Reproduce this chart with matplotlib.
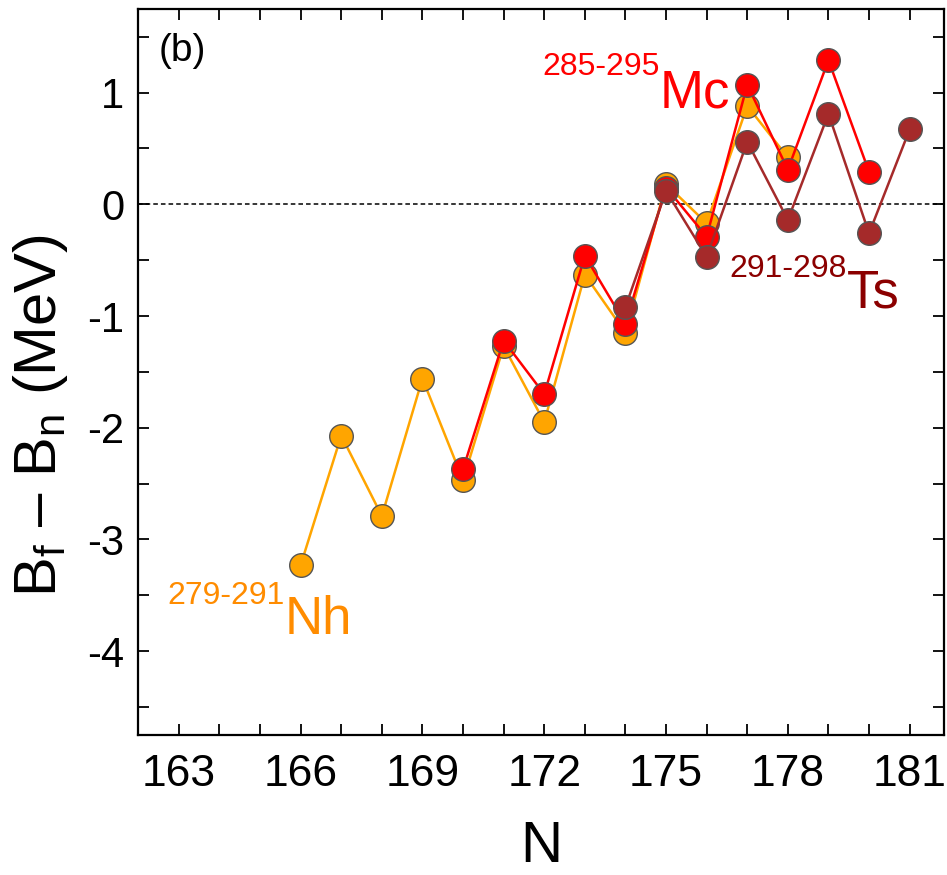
import matplotlib
matplotlib.use('Agg')
import matplotlib.pyplot as plt
from matplotlib.ticker import MultipleLocator

plt.rcParams['font.family'] = ['Liberation Sans', 'DejaVu Sans']
plt.rcParams['mathtext.fontset'] = 'custom'
plt.rcParams['mathtext.rm'] = 'Liberation Sans'
plt.rcParams['axes.unicode_minus'] = False

# Nh isotopes 279-291
N_nh = [166, 167, 168, 169, 170, 171, 172, 173, 174, 175, 176, 177, 178]
d_nh = [-3.23, -2.07, -2.79, -1.56, -2.47, -1.27, -1.95, -0.63, -1.15, 0.18, -0.17, 0.88, 0.42]
# Mc isotopes 285-295
N_mc = [170, 171, 172, 173, 174, 175, 176, 177, 178, 179, 180]
d_mc = [-2.37, -1.22, -1.70, -0.46, -1.07, 0.15, -0.29, 1.07, 0.31, 1.29, 0.29]
# Ts isotopes 291-298
N_ts = [174, 175, 176, 177, 178, 179, 180, 181]
d_ts = [-0.92, 0.12, -0.47, 0.56, -0.14, 0.81, -0.26, 0.67]

xticks = [163, 166, 169, 172, 175, 178, 181]

fig = plt.figure(figsize=(9.47, 8.75), dpi=100)
ax = fig.add_axes([0.146, 0.16, 0.851, 0.83])

ax.axhline(0, color='black', lw=1.1, ls=(0, (3, 2)), zorder=1)
ms = 17
ax.plot(N_nh, d_nh, color='orange', lw=1.8, marker='o', ms=ms,
        mfc='orange', mec='#555555', mew=1.0, zorder=2)
ax.plot(N_mc, d_mc, color='red', lw=1.8, marker='o', ms=ms,
        mfc='red', mec='#555555', mew=1.0, zorder=3)
ax.plot(N_ts, d_ts, color='brown', lw=1.8, marker='o', ms=ms,
        mfc='brown', mec='#555555', mew=1.0, zorder=4)

ax.set_xlim(162, 181.85)
ax.set_ylim(-4.75, 1.75)
ax.set_xticks(xticks)
ax.xaxis.set_minor_locator(MultipleLocator(1))
ax.yaxis.set_major_locator(MultipleLocator(1))
ax.yaxis.set_minor_locator(MultipleLocator(0.5))
ax.tick_params(which='both', direction='in', top=True, right=True, length=8, width=1.3)
ax.tick_params(axis='x', labelsize=32, pad=14)
ax.tick_params(axis='y', labelsize=30, pad=10)
for s in ax.spines.values():
    s.set_linewidth(1.6)

ax.set_xlabel('N', fontsize=42, labelpad=18)
ax.set_ylabel(r'B$_\mathregular{f}$ – B$_\mathregular{n}$ (MeV)', fontsize=43)
ax.yaxis.set_label_coords(-0.085, 0.44)

ax.text(162.5, 1.28, '(b)', fontsize=28)

ax.text(174.85, 1.16, '285-295', color='red', fontsize=23, ha='right')
ax.text(174.85, 0.87, 'Mc', color='red', fontsize=38, ha='left')
ax.text(165.6, -3.58, '279-291', color='#FF8C00', fontsize=23, ha='right')
ax.text(165.6, -3.85, 'Nh', color='#FF8C00', fontsize=38, ha='left')
ax.text(179.45, -0.65, '291-298', color='#8B0000', fontsize=23, ha='right')
ax.text(179.45, -0.92, 'Ts', color='#8B0000', fontsize=38, ha='left')

fig.savefig('out.png', dpi=100)
